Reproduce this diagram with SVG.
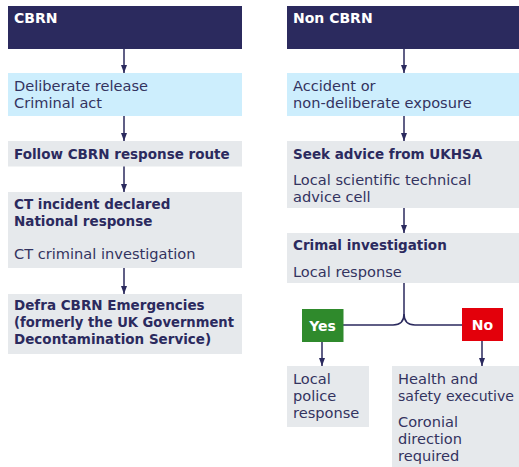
<svg xmlns="http://www.w3.org/2000/svg" width="519" height="467" viewBox="0 0 519 467">
<defs>
<marker id="ah" viewBox="0 0 8 6" refX="8" refY="3" markerWidth="8" markerHeight="6" markerUnits="userSpaceOnUse" orient="auto">
<path d="M0,0 L8,3 L0,6 Z" fill="#2b2a5e"/>
</marker>
<style>
.hdr{fill:#2b2a5e}
.blue{fill:#cdeefd}
.gray{fill:#e6e9ec}
text{font-family:"DejaVu Sans","Liberation Sans",sans-serif;font-size:14.6px;fill:#33335f}
.b{font-weight:bold;font-size:13.5px;fill:#2b2a5e}
.w{font-weight:bold;font-size:14px;fill:#ffffff}
.c{stroke:#2b2a5e;stroke-width:1.5;fill:none}
</style>
</defs>
<rect width="519" height="467" fill="#ffffff"/>
<g id="connectors">
<path class="c" d="M124,49 V73" marker-end="url(#ah)"/>
<path class="c" d="M124,116 V141" marker-end="url(#ah)"/>
<path class="c" d="M124,166 V192" marker-end="url(#ah)"/>
<path class="c" d="M124,268 V294" marker-end="url(#ah)"/>
<path class="c" d="M404,49 V73" marker-end="url(#ah)"/>
<path class="c" d="M404,116 V141" marker-end="url(#ah)"/>
<path class="c" d="M404,208 V233" marker-end="url(#ah)"/>
<path class="c" d="M404,283 V314 Q404,325 393,325 H343"/>
<path class="c" d="M404,314 Q404,325 415,325 H462"/>
<path class="c" d="M322,342 V366" marker-end="url(#ah)"/>
<path class="c" d="M482,341 V366" marker-end="url(#ah)"/>
</g>
<g id="cbrn">
<rect class="hdr" x="8" y="6" width="234" height="43"/>
<text class="w" x="14" y="23">CBRN</text>
</g>
<g id="deliberate">
<rect class="blue" x="8" y="73" width="234" height="43"/>
<text x="14" y="91">Deliberate release</text>
<text x="14" y="107.5">Criminal act</text>
</g>
<g id="follow">
<rect class="gray" x="8" y="141" width="234" height="25.5"/>
<text class="b" x="14" y="158.5">Follow CBRN response route</text>
</g>
<g id="ct">
<rect class="gray" x="8" y="192" width="234" height="76"/>
<text class="b" x="14" y="208.5">CT incident declared</text>
<text class="b" x="14" y="226">National response</text>
<text x="14" y="259">CT criminal investigation</text>
</g>
<g id="defra">
<rect class="gray" x="8" y="294" width="234" height="60"/>
<text class="b" x="14" y="309.5">Defra CBRN Emergencies</text>
<text class="b" x="14" y="327" textLength="220" lengthAdjust="spacingAndGlyphs">(formerly the UK Government</text>
<text class="b" x="14" y="344">Decontamination Service)</text>
</g>
<g id="noncbrn">
<rect class="hdr" x="287" y="6" width="232" height="43"/>
<text class="w" x="293" y="23">Non CBRN</text>
</g>
<g id="accident">
<rect class="blue" x="287" y="73" width="232" height="43"/>
<text x="293" y="91">Accident or</text>
<text x="293" y="107.5">non-deliberate exposure</text>
</g>
<g id="seek">
<rect class="gray" x="287" y="141" width="232" height="67"/>
<text class="b" x="293" y="158.5">Seek advice from UKHSA</text>
<text x="293" y="184.5">Local scientific technical</text>
<text x="293" y="201.5">advice cell</text>
</g>
<g id="crimal">
<rect class="gray" x="287" y="233" width="232" height="50"/>
<text class="b" x="293" y="250">Crimal investigation</text>
<text x="293" y="276.5">Local response</text>
</g>
<g id="yes">
<rect x="302" y="309" width="41.5" height="33" fill="#2f8a2c"/>
<text class="w" x="322.5" y="330.5" text-anchor="middle">Yes</text>
</g>
<g id="no">
<rect x="462" y="308" width="41" height="33" fill="#e3000b"/>
<text class="w" x="482.5" y="330" text-anchor="middle">No</text>
</g>
<g id="police">
<rect class="gray" x="287" y="366" width="82" height="61"/>
<text x="293" y="384">Local</text>
<text x="293" y="401">police</text>
<text x="293" y="417.5">response</text>
</g>
<g id="hse">
<rect class="gray" x="392" y="366" width="127" height="101"/>
<text x="398" y="384">Health and</text>
<text x="398" y="401" textLength="116" lengthAdjust="spacingAndGlyphs">safety executive</text>
<text x="398" y="427">Coronial</text>
<text x="398" y="444">direction</text>
<text x="398" y="460.5">required</text>
</g>
</svg>
